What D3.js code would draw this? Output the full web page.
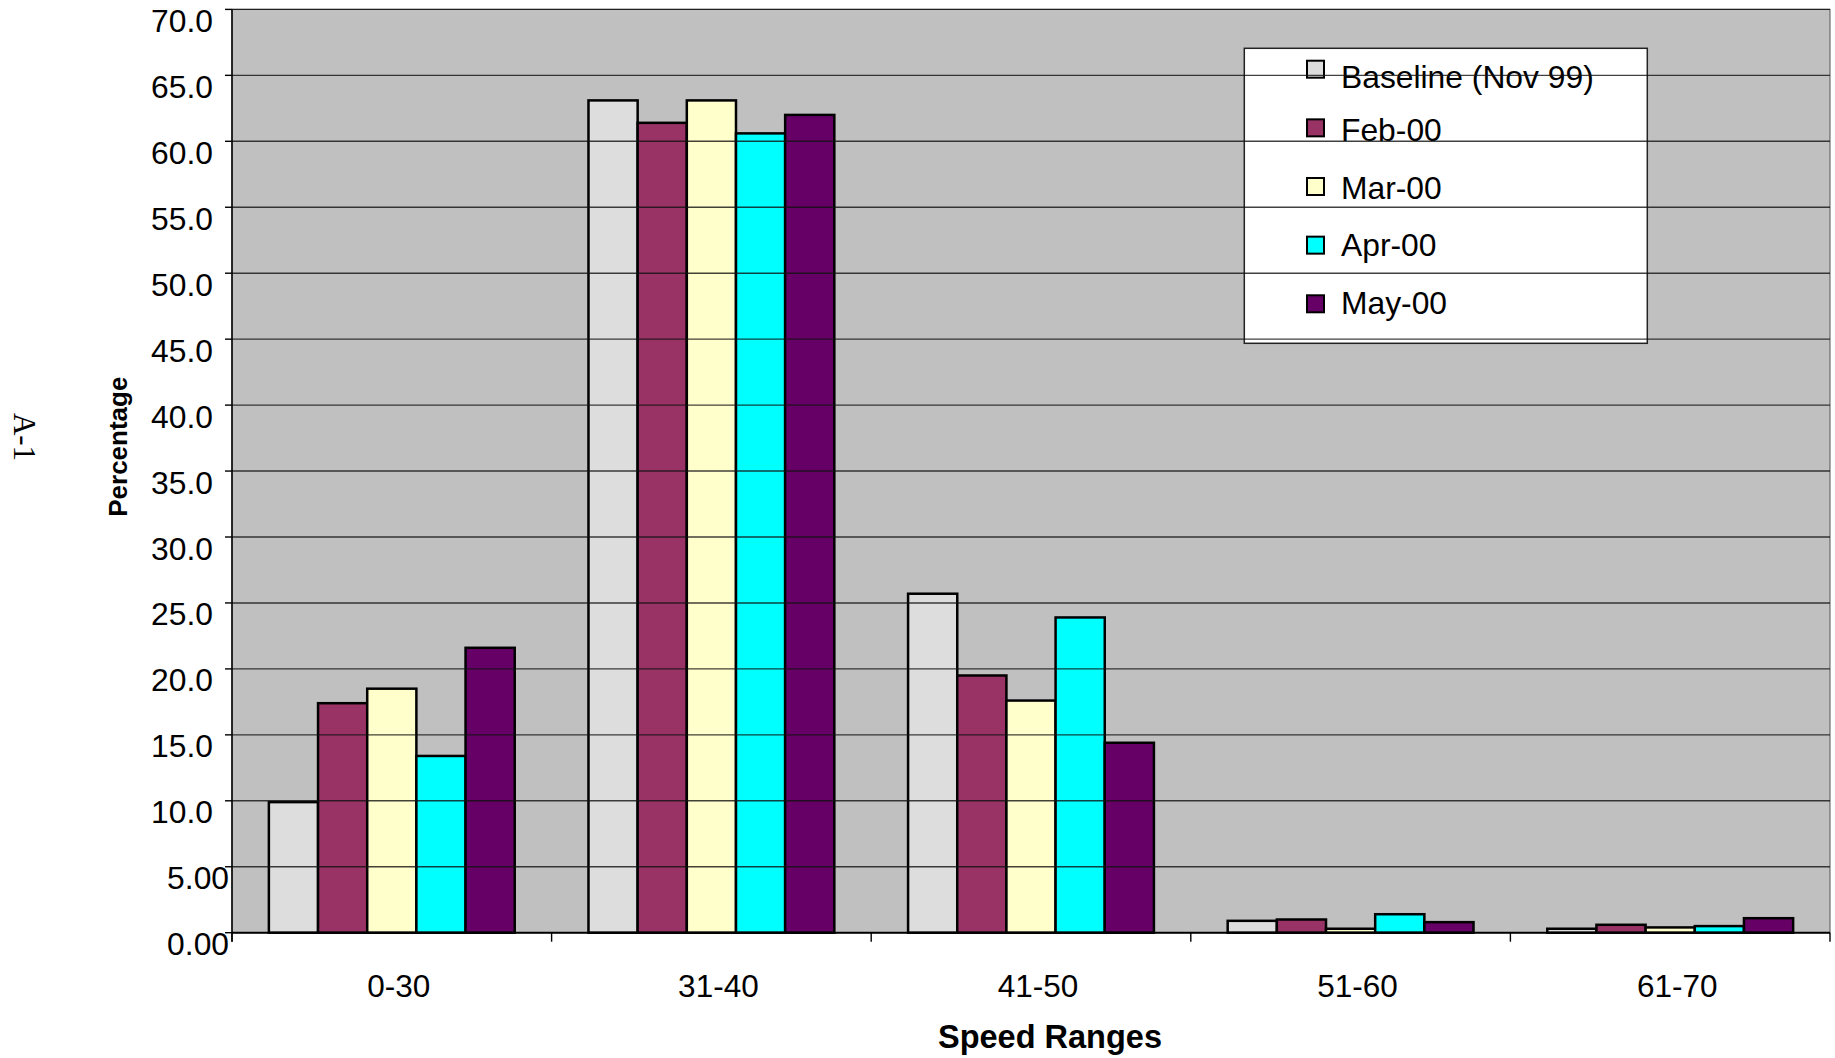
<!DOCTYPE html>
<html>
<head>
<meta charset="utf-8">
<script src="https://cdn.jsdelivr.net/npm/d3@7"></script>
<style>
  html, body { margin: 0; padding: 0; background: #fff; }
  svg { display: block; }
  text { font-family: "Liberation Sans", Arial, sans-serif; fill: #000; }
</style>
</head>
<body>
<svg id="chart" width="1835" height="1058"></svg>
<script>
// ---- data ----
const categories = ["0-30", "31-40", "41-50", "51-60", "61-70"];
const seriesNames = ["Baseline (Nov 99)", "Feb-00", "Mar-00", "Apr-00", "May-00"];
const seriesColors = ["#DDDDDD", "#993366", "#FFFFCC", "#00FFFF", "#660066"];
const baseline = [9.9, 63.1, 25.7, 0.9, 0.3];
const feb00    = [17.4, 61.4, 19.5, 1.0, 0.6];
const mar00    = [18.5, 63.1, 17.6, 0.3, 0.4];
const apr00    = [13.4, 60.6, 23.9, 1.4, 0.5];
const may00    = [21.6, 62.0, 14.4, 0.8, 1.1];
const yTicks = [0, 5, 10, 15, 20, 25, 30, 35, 40, 45, 50, 55, 60, 65, 70];
const yTitle = "Percentage";
const xTitle = "Speed Ranges";
const pageLabel = "A-1";

const seriesValues = [baseline, feb00, mar00, apr00, may00];

// ---- layout ----
const svg = d3.select("#chart");
const L = 232, R = 1830, T = 9.4, B = 932.7;

const x0 = d3.scaleBand().domain(categories).range([L, R]).paddingInner(0).paddingOuter(0);
const x1 = d3.scaleBand().domain(seriesNames).range([0, x0.bandwidth()]).paddingInner(0).paddingOuter(0.75);
const y = d3.scaleLinear().domain([0, 70]).range([B, T]);

// plot background
svg.append("rect").attr("x", L).attr("y", T).attr("width", R - L).attr("height", B - T)
  .attr("fill", "#C0C0C0").attr("stroke", "#555").attr("stroke-width", 1);

// bars
const groups = svg.append("g").selectAll("g")
  .data(categories).join("g")
  .attr("transform", d => `translate(${x0(d)},0)`);

groups.selectAll("rect")
  .data((c, ci) => seriesNames.map((s, si) => ({ s, si, v: seriesValues[si][ci] })))
  .join("rect")
  .attr("x", d => x1(d.s))
  .attr("y", d => y(d.v))
  .attr("width", x1.bandwidth())
  .attr("height", d => y(0) - y(d.v))
  .attr("fill", d => seriesColors[d.si])
  .attr("stroke", "#000")
  .attr("stroke-width", 2.5);

// legend
const legendTextY = [87.5, 141.3, 198.6, 255.9, 314];
const lg = svg.append("g");
lg.append("rect").attr("x", 1244.3).attr("y", 48.3).attr("width", 403).attr("height", 295)
  .attr("fill", "#fff").attr("stroke", "#222").attr("stroke-width", 1.5);
seriesNames.forEach((s, i) => {
  const cy = 69.2 + i * 58.65;
  lg.append("rect").attr("x", 1307).attr("y", cy - 8.5).attr("width", 17).attr("height", 17)
    .attr("fill", seriesColors[i]).attr("stroke", "#000").attr("stroke-width", 2);
  lg.append("text").attr("x", 1341).attr("y", legendTextY[i])
    .attr("font-size", 31.8).text(s);
});

// gridlines on top
svg.append("g").selectAll("line")
  .data(yTicks.filter(t => t > 0)).join("line")
  .attr("x1", L).attr("x2", R)
  .attr("y1", d => y(d)).attr("y2", d => y(d))
  .attr("stroke", "#111").attr("stroke-opacity", 0.8).attr("stroke-width", 1.4);

// y axis
const fmt = d => d < 10 ? d.toFixed(2) : d.toFixed(1);
const yAxis = svg.append("g");
yAxis.append("line").attr("x1", L).attr("x2", L).attr("y1", T).attr("y2", B + 9)
  .attr("stroke", "#000").attr("stroke-width", 1.5);
yAxis.selectAll("line.tick").data(yTicks).join("line").attr("class", "tick")
  .attr("x1", L - 7).attr("x2", L).attr("y1", d => y(d)).attr("y2", d => y(d))
  .attr("stroke", "#000").attr("stroke-width", 1.4);
yAxis.selectAll("text").data(yTicks).join("text")
  .attr("x", d => d < 10 ? 229 : 213)
  .attr("y", d => y(d) + 22.5)
  .attr("text-anchor", "end")
  .attr("font-size", 31.8)
  .text(fmt);

// x axis
const xAxis = svg.append("g");
xAxis.append("line").attr("x1", L).attr("x2", R).attr("y1", B).attr("y2", B)
  .attr("stroke", "#000").attr("stroke-width", 2);
const bounds = categories.map(c => x0(c)).concat([R]);
xAxis.selectAll("line.tick").data(bounds).join("line").attr("class", "tick")
  .attr("x1", d => d).attr("x2", d => d).attr("y1", B).attr("y2", B + 9)
  .attr("stroke", "#000").attr("stroke-width", 1.4);
xAxis.selectAll("text").data(categories).join("text")
  .attr("x", d => x0(d) + x0.bandwidth() / 2 + 7)
  .attr("y", 996.7)
  .attr("text-anchor", "middle")
  .attr("font-size", 31.5)
  .text(d => d);

// titles
svg.append("text").attr("x", 1050).attr("y", 1048).attr("text-anchor", "middle")
  .attr("font-size", 32.5).attr("font-weight", "bold").text(xTitle);
svg.append("text").attr("transform", "translate(127,446.7) rotate(-90)")
  .attr("text-anchor", "middle").attr("font-size", 26).attr("font-weight", "bold").text(yTitle);
svg.append("text").attr("transform", "translate(13.5,437) rotate(90)")
  .attr("text-anchor", "middle").attr("font-size", 31)
  .style("font-family", "'Liberation Serif', 'Times New Roman', serif").text(pageLabel);
</script>
</body>
</html>
